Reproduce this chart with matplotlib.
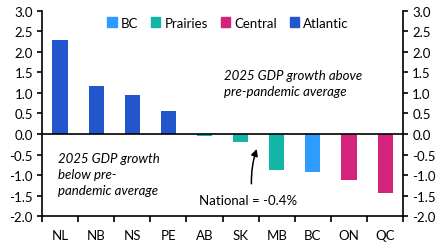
import matplotlib
matplotlib.use("Agg")
import matplotlib.pyplot as plt
from matplotlib.patches import Patch
import numpy as np

provinces = ["NL", "NB", "NS", "PE", "AB", "SK", "MB", "BC", "ON", "QC"]
values = [2.3, 1.17, 0.95, 0.55, -0.04, -0.2, -0.87, -0.92, -1.13, -1.43]
regions = ["Atlantic", "Atlantic", "Atlantic", "Atlantic", "Prairies", "Prairies",
           "Prairies", "BC", "Central", "Central"]
region_colors = {"BC": "#2E9BFF", "Prairies": "#13B6A6",
                 "Central": "#D3237A", "Atlantic": "#2256CC"}
legend_order = ["BC", "Prairies", "Central", "Atlantic"]

plt.rcParams["font.family"] = ["Lato", "DejaVu Sans"]
plt.rcParams["font.size"] = 9.5

fig = plt.figure(figsize=(4.47, 2.53), dpi=100)
ax = fig.add_axes([0.094, 0.142, 0.808, 0.811])

x = np.arange(len(provinces))
colors = [region_colors[r] for r in regions]
ax.bar(x, values, width=0.42, color=colors, zorder=2)
ax.axhline(0, color="black", lw=1.2, zorder=3)

ax.set_xlim(-0.5, len(provinces) - 0.5)
ax.set_ylim(-2.0, 3.0)
ax.set_yticks(np.arange(-2.0, 3.01, 0.5))
ax.set_yticklabels(["{:.1f}".format(v) for v in np.arange(-2.0, 3.01, 0.5)])
ax.set_xticks(x)
ax.set_xticklabels(provinces)
ax.set_xticks(np.arange(-0.5, len(provinces), 1.0), minor=True)
ax.tick_params(axis="x", which="major", length=0, pad=9)
ax.tick_params(axis="x", which="minor", length=4, width=1.2, direction="out")
ax.tick_params(axis="y", length=3.5, width=1.2, direction="out",
               right=True, labelright=True, pad=3)

ax.spines["top"].set_visible(False)
for s in ["left", "right", "bottom"]:
    ax.spines[s].set_linewidth(1.2)

handles = [Patch(color=region_colors[r], label=r) for r in legend_order]
ax.legend(handles=handles, ncol=4, frameon=False, loc="upper center",
          bbox_to_anchor=(0.515, 1.03), handlelength=0.7, handleheight=0.7,
          handletextpad=0.3, columnspacing=1.0, fontsize=9.5)

ax.text(4.55, 1.25, "2025 GDP growth above\npre-pandemic average",
        style="italic", fontsize=9.5, ha="left", va="center", linespacing=1.4)
ax.text(-0.05, -0.98, "2025 GDP growth\nbelow pre-\npandemic average",
        style="italic", fontsize=9.5, ha="left", va="center", linespacing=1.4)

ax.annotate("", xy=(5.47, -0.3), xytext=(5.3, -1.28),
            arrowprops=dict(arrowstyle="-|>", color="black", lw=1.1,
                            connectionstyle="arc3,rad=-0.1", mutation_scale=10))
ax.text(5.2, -1.6, "National = -0.4%", fontsize=9.5, ha="center", va="center")

fig.savefig("out.png", dpi=100)
